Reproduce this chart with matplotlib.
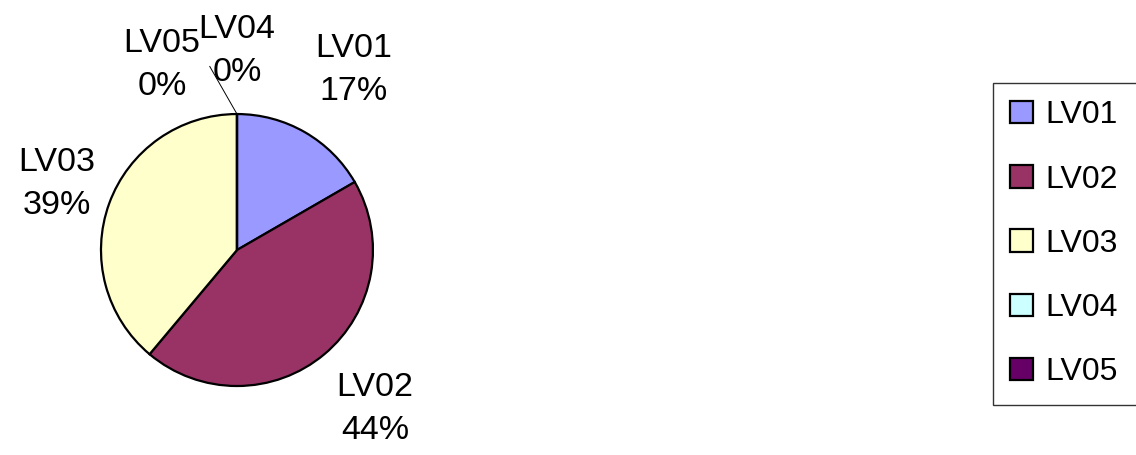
import numpy as np
import matplotlib
matplotlib.use('Agg')
import matplotlib.pyplot as plt

# Datos
etiquetas = ['LV01', 'LV02', 'LV03', 'LV04', 'LV05']
valores = [6, 16, 14, 0, 0]
colores = ['#9999FF', '#993366', '#FFFFCC', '#CCFFFF', '#660066']

# distancia y desplazamiento angular de cada etiqueta
dist_etiqueta = [1.58, 1.55, 1.41, 1.46, 1.47]
giro_etiqueta = [-3, 1, 0, 0, 22]

plt.rcParams['font.family'] = ['Liberation Sans', 'DejaVu Sans']

fig = plt.figure(figsize=(11.36, 4.55), dpi=100)
ax = fig.add_axes([0.0889, 0.1516, 0.2394, 0.5978])

wedges, _ = ax.pie(valores, colors=colores, startangle=90, counterclock=False,
                   radius=1, wedgeprops=dict(edgecolor='black', linewidth=1.6))
ax.set_xlim(-1, 1)
ax.set_ylim(-1, 1)
ax.set_aspect('equal')
ax.axis('off')

total = sum(valores)
for w, lab, v, d, g in zip(wedges, etiquetas, valores, dist_etiqueta, giro_etiqueta):
    ang = np.deg2rad((w.theta1 + w.theta2) / 2 + g)
    pct = round(v / total * 100)
    ax.text(d * np.cos(ang), d * np.sin(ang), f'{lab}\n{pct}%', ha='center', va='center',
            fontsize=24.5, linespacing=1.5, multialignment='center', clip_on=False)

# linea guia de LV04
ang4 = np.deg2rad(wedges[3].theta1)
ax.plot([np.cos(ang4), -0.2], [np.sin(ang4), 1.35], color='black', lw=0.7, clip_on=False)

# Leyenda
leg = fig.legend(wedges, etiquetas, loc='upper left', bbox_to_anchor=(0.874, 0.818, 0.2, 0.0),
                 mode='expand', fontsize=23, frameon=True, fancybox=False, edgecolor='black',
                 handlelength=0.7, handleheight=0.7, handletextpad=0.4,
                 labelspacing=1.07, borderpad=0.55, borderaxespad=0)
leg.get_frame().set_linewidth(1.0)

plt.savefig('out.png', dpi=100)
